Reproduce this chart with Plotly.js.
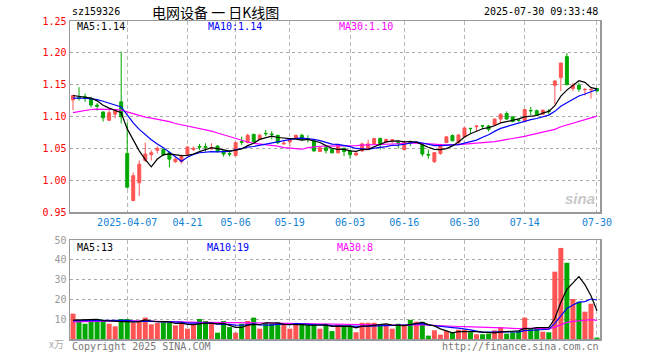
<!DOCTYPE html>
<html><head><meta charset="utf-8">
<script src="https://cdn.plot.ly/plotly-3.0.1.min.js"></script>
<style>html,body{margin:0;padding:0;background:#fff}#chart{width:660px;height:360px}</style>
</head><body><div id="chart"></div>
<script>
const dates = ["2025-03-24","2025-03-25","2025-03-26","2025-03-27","2025-03-28","2025-03-31","2025-04-01","2025-04-02","2025-04-03","2025-04-07","2025-04-08","2025-04-09","2025-04-10","2025-04-11","2025-04-14","2025-04-15","2025-04-16","2025-04-17","2025-04-18","2025-04-21","2025-04-22","2025-04-23","2025-04-24","2025-04-25","2025-04-28","2025-04-29","2025-04-30","2025-05-06","2025-05-07","2025-05-08","2025-05-09","2025-05-12","2025-05-13","2025-05-14","2025-05-15","2025-05-16","2025-05-19","2025-05-20","2025-05-21","2025-05-22","2025-05-23","2025-05-26","2025-05-27","2025-05-28","2025-05-29","2025-05-30","2025-06-03","2025-06-04","2025-06-05","2025-06-06","2025-06-09","2025-06-10","2025-06-11","2025-06-12","2025-06-13","2025-06-16","2025-06-17","2025-06-18","2025-06-19","2025-06-20","2025-06-23","2025-06-24","2025-06-25","2025-06-26","2025-06-27","2025-06-30","2025-07-01","2025-07-02","2025-07-03","2025-07-04","2025-07-07","2025-07-08","2025-07-09","2025-07-10","2025-07-11","2025-07-14","2025-07-15","2025-07-16","2025-07-17","2025-07-18","2025-07-21","2025-07-22","2025-07-23","2025-07-24","2025-07-25","2025-07-28","2025-07-29","2025-07-30"];

const open = [1.126,1.130,1.131,1.128,1.118,1.107,1.094,1.1036,1.123,1.042,0.968,0.996,1.031,1.040,1.047,1.048,1.043,1.029,1.029,1.040,1.048,1.053,1.053,1.049,1.0536,1.046,1.0415,1.0385,1.0605,1.059,1.072,1.064,1.0735,1.0725,1.0705,1.057,1.060,1.066,1.0705,1.0645,1.062,1.045,1.051,1.0485,1.043,1.050,1.046,1.0395,1.046,1.048,1.057,1.0655,1.060,1.0625,1.059,1.048,1.0595,1.0585,1.0555,1.0405,1.029,1.042,1.059,1.070,1.059,1.068,1.0815,1.084,1.0855,1.085,1.0865,1.096,1.1047,1.0995,1.0945,1.0927,1.1095,1.109,1.1036,1.1085,1.149,1.161,1.194,1.144,1.149,1.142,1.142,1.144];
const high = [1.134,1.146,1.136,1.131,1.121,1.108,1.110,1.112,1.202,1.090,1.012,1.031,1.059,1.047,1.053,1.050,1.045,1.036,1.040,1.054,1.053,1.057,1.058,1.058,1.055,1.047,1.047,1.059,1.0685,1.073,1.073,1.073,1.079,1.077,1.071,1.062,1.0635,1.071,1.073,1.0705,1.064,1.052,1.0525,1.050,1.057,1.051,1.047,1.044,1.059,1.0635,1.066,1.067,1.065,1.064,1.062,1.060,1.0625,1.061,1.058,1.048,1.0435,1.057,1.069,1.072,1.072,1.083,1.0815,1.0865,1.0865,1.0865,1.097,1.105,1.108,1.100,1.096,1.112,1.115,1.111,1.111,1.112,1.157,1.184,1.1995,1.153,1.153,1.145,1.144,1.145];
const low = [1.110,1.125,1.123,1.114,1.109,1.092,1.093,1.097,1.089,0.987,0.967,0.975,1.029,1.031,1.042,1.038,1.020,1.027,1.026,1.038,1.046,1.047,1.045,1.048,1.044,1.037,1.037,1.0385,1.055,1.058,1.059,1.063,1.069,1.064,1.057,1.0555,1.0525,1.065,1.062,1.059,1.0445,1.044,1.042,1.042,1.042,1.038,1.0335,1.038,1.044,1.047,1.056,1.048,1.059,1.058,1.050,1.047,1.0535,1.057,1.037,1.0335,1.027,1.040,1.058,1.061,1.057,1.067,1.074,1.077,1.080,1.0765,1.085,1.090,1.095,1.091,1.091,1.092,1.102,1.101,1.103,1.1035,1.119,1.140,1.149,1.140,1.139,1.133,1.128,1.139];
const close = [1.133,1.128,1.128,1.118,1.116,1.098,1.106,1.110,1.0995,0.989,1.007,1.025,1.041,1.043,1.050,1.040,1.033,1.033,1.037,1.052,1.050,1.052,1.051,1.050,1.0448,1.041,1.041,1.059,1.0595,1.0705,1.0605,1.0705,1.073,1.072,1.0588,1.058,1.063,1.0705,1.064,1.064,1.046,1.051,1.0465,1.043,1.056,1.045,1.040,1.0425,1.057,1.057,1.0655,1.057,1.064,1.0635,1.058,1.059,1.059,1.0595,1.041,1.0395,1.0433,1.056,1.068,1.062,1.071,1.082,1.081,1.085,1.085,1.080,1.096,1.1036,1.096,1.092,1.094,1.111,1.109,1.102,1.110,1.108,1.1557,1.184,1.150,1.149,1.143,1.1425,1.1425,1.140];

const ma5 = [1.133,1.132,1.131,1.129,1.1246,1.1176,1.1132,1.1096,1.1059,1.0805,1.0623,1.0461,1.0323,1.021,1.0332,1.0398,1.0414,1.0398,1.0386,1.039,1.041,1.0448,1.0484,1.051,1.0496,1.0478,1.0456,1.0472,1.0491,1.0542,1.0581,1.064,1.0668,1.0693,1.067,1.0665,1.065,1.0645,1.0629,1.0639,1.0615,1.0591,1.0543,1.0501,1.0485,1.0483,1.0461,1.0453,1.0481,1.0483,1.0524,1.0558,1.0601,1.0614,1.0616,1.0603,1.0607,1.0598,1.0553,1.0516,1.0485,1.0479,1.0496,1.0538,1.0601,1.0678,1.0728,1.0762,1.0808,1.0826,1.0854,1.0899,1.0921,1.0935,1.0963,1.0993,1.1004,1.1016,1.1052,1.108,1.1169,1.1319,1.1415,1.1493,1.1563,1.1537,1.1454,1.1434];
const ma10 = [1.129,1.129,1.1287,1.1276,1.1265,1.124,1.121,1.119,1.115,1.1026,1.09,1.0797,1.071,1.0635,1.0569,1.0511,1.0438,1.0361,1.0298,1.0361,1.0404,1.0431,1.0441,1.0448,1.0443,1.0444,1.0452,1.0478,1.05,1.0519,1.0529,1.0548,1.057,1.0592,1.0606,1.0623,1.0645,1.0656,1.0661,1.0654,1.064,1.062,1.0594,1.0565,1.0562,1.0549,1.0526,1.0498,1.0491,1.0484,1.0504,1.051,1.0527,1.0548,1.055,1.0564,1.0583,1.06,1.0584,1.0566,1.0544,1.0543,1.0547,1.0545,1.0558,1.0581,1.0603,1.0629,1.0673,1.0713,1.0766,1.0814,1.0842,1.0872,1.0895,1.0924,1.0952,1.0969,1.0994,1.1022,1.1081,1.1162,1.1216,1.1273,1.1322,1.1353,1.1387,1.1425];
const ma30 = [1.106,1.108,1.110,1.111,1.1115,1.1115,1.1115,1.111,1.110,1.107,1.104,1.101,1.099,1.0975,1.096,1.094,1.092,1.089,1.087,1.085,1.083,1.082,1.080,1.077,1.074,1.071,1.068,1.065,1.062,1.060,1.058,1.057,1.056,1.055,1.0535,1.051,1.050,1.049,1.0486,1.0511,1.0524,1.0533,1.0535,1.0535,1.0537,1.0539,1.0541,1.0544,1.0551,1.0552,1.0558,1.0559,1.0564,1.0568,1.0572,1.0578,1.0584,1.0585,1.0578,1.0568,1.0562,1.0558,1.0556,1.0553,1.0557,1.0565,1.0571,1.0575,1.0582,1.0588,1.0604,1.0622,1.0638,1.0655,1.0667,1.0689,1.0712,1.0732,1.075,1.0767,1.0797,1.0839,1.0868,1.0897,1.0925,1.0953,1.0981,1.1007];

const volume = [12.8,9.1,7.7,10.1,10.1,9.7,7.7,6.4,10.1,10.1,8.1,9.1,10.8,7.4,8.1,8.4,8.4,6.9,8.1,5.2,7.7,10.1,9.1,8.1,3.2,9.1,6.0,3.2,7.7,9.1,10.8,5.2,8.1,7.7,8.6,7.4,5.2,7.7,7.2,7.2,7.7,5.2,7.7,4.0,7.4,6.7,6.7,3.4,8.2,8.2,8.2,6.7,6.7,5.2,7.7,7.4,9.7,8.7,8.7,1.7,4.4,2.2,4.0,3.4,4.7,4.7,3.4,2.4,2.4,2.7,4.4,6.0,2.7,3.4,4.0,10.8,5.0,5.7,3.7,3.4,34,46,38.5,20.2,18.8,13.8,17.8,0.7];
const vma5 = [9.5,9.6,9.7,9.8,9.96,9.34,9.06,8.8,8.8,8.8,8.48,8.76,9.64,9.1,8.7,8.76,8.62,7.84,7.98,7.4,7.26,7.6,8.04,8.04,7.64,7.92,7.1,5.92,5.84,7.02,7.36,7.2,8.18,8.18,8.08,7.4,7.4,7.32,7.22,6.94,7.0,7.0,7.0,6.36,6.4,6.2,6.5,5.64,6.48,6.64,6.94,6.94,7.6,7.0,6.9,6.74,7.34,7.74,8.44,7.24,6.64,5.14,4.2,3.14,3.74,3.8,4.04,3.72,3.52,3.12,3.06,3.58,3.64,3.84,4.1,5.38,5.18,5.78,5.84,5.72,10.36,18.56,25.12,28.42,31.5,27.46,21.82,14.26];
const vma10 = [9.3,9.3,9.3,9.3,9.3,9.3,9.3,9.3,9.3,9.38,8.91,8.91,9.22,8.95,8.75,8.62,8.69,8.74,8.54,8.05,8.01,8.11,7.94,8.01,7.52,7.59,7.35,6.98,6.94,7.33,7.64,7.15,7.05,7.01,7.55,7.38,7.3,7.75,7.7,7.51,7.2,7.2,7.16,6.79,6.67,6.6,6.75,6.32,6.42,6.52,6.57,6.72,6.62,6.74,6.77,6.84,7.14,7.67,7.72,7.07,6.69,6.24,5.97,5.79,5.49,5.22,4.59,3.96,3.33,3.43,3.43,3.81,3.68,3.68,3.61,4.22,4.38,4.71,4.84,4.91,7.87,11.87,15.45,17.13,18.61,18.91,20.19,19.69];
const vma30 = [8.6,8.7,8.8,8.9,9.0,9.1,9.2,9.3,9.4,9.3,9.2,9.1,9.0,8.9,8.9,8.8,8.7,8.6,8.6,8.5,8.5,8.4,8.4,8.4,8.3,8.3,8.3,8.2,8.2,8.25,8.19,8.06,8.07,7.99,7.94,7.86,7.78,7.82,7.73,7.63,7.62,7.49,7.38,7.27,7.25,7.19,7.13,7.02,7.02,7.12,7.14,7.02,6.94,6.85,7.0,6.94,7.06,7.25,7.28,7.03,6.82,6.72,6.58,6.44,6.31,6.22,6.16,5.98,5.82,5.67,5.56,5.59,5.42,5.40,5.29,5.43,5.37,5.45,5.30,5.14,6.0,7.31,8.37,8.87,9.24,9.45,9.72,9.45];

const tickDates = ["2025-04-07","2025-04-21","2025-05-06","2025-05-19","2025-06-03","2025-06-16","2025-06-30","2025-07-14","2025-07-30"];
const tickLabels = ["2025-04-07","04-21","05-06","05-19","06-03","06-16","06-30","07-14","07-30"];
const priceTicks = [0.95,1.00,1.05,1.10,1.15,1.20,1.25];
const volTicks = [10,20,30,40,50];

const RED = "#ff5454", GREEN = "#00a800";
const MONO = "DejaVu Sans Mono";
const volColors = close.map((c,i)=> c >= open[i] ? RED : GREEN);

const traces = [
  {type:"candlestick", x:dates, open:open, high:high, low:low, close:close, xaxis:"x", yaxis:"y",
   increasing:{line:{color:RED,width:1}, fillcolor:RED},
   decreasing:{line:{color:GREEN,width:1}, fillcolor:GREEN},
   whiskerwidth:0, hoverinfo:"skip", showlegend:false},
  {type:"scatter", mode:"lines", x:dates, y:ma30, line:{color:"#ff00ff",width:1.2}, xaxis:"x", yaxis:"y", showlegend:false},
  {type:"scatter", mode:"lines", x:dates, y:ma10, line:{color:"#0000ff",width:1.2}, xaxis:"x", yaxis:"y", showlegend:false},
  {type:"scatter", mode:"lines", x:dates, y:ma5, line:{color:"#000000",width:1.2}, xaxis:"x", yaxis:"y", showlegend:false},
  {type:"bar", x:dates, y:volume, marker:{color:volColors, line:{width:0}}, xaxis:"x2", yaxis:"y2", showlegend:false},
  {type:"scatter", mode:"lines", x:dates, y:vma30, line:{color:"#ff00ff",width:1.2}, xaxis:"x2", yaxis:"y2", showlegend:false},
  {type:"scatter", mode:"lines", x:dates, y:vma10, line:{color:"#0000ff",width:1.2}, xaxis:"x2", yaxis:"y2", showlegend:false},
  {type:"scatter", mode:"lines", x:dates, y:vma5, line:{color:"#000000",width:1.2}, xaxis:"x2", yaxis:"y2", showlegend:false}
];

// pixel -> paper helpers (plot area x 70..600, y 21..339)
const PX = x => (x-70)/530, PY = y => (339-y)/318;
function ann(text, x, y, color, size, anchor, family, extra){
  return Object.assign({text:text, x:PX(x), y:PY(y), xref:"paper", yref:"paper", showarrow:false,
    xanchor:anchor||"left", yanchor:"middle", font:{family:family||MONO, size:size||10, color:color||"#000"}}, extra||{});
}

const gridX = {showgrid:true, gridcolor:"#b8b8b8", griddash:"4px,3px", gridwidth:1};
const layout = {
  width:660, height:360, margin:{l:70, r:60, t:21, b:21},
  paper_bgcolor:"#fff", plot_bgcolor:"#fff", showlegend:false, hovermode:false,
  bargap:0.17,
  xaxis:Object.assign({type:"category", range:[-0.5, dates.length-0.5], domain:[0,1], anchor:"y",
    tickvals:tickDates, ticktext:tickLabels, tickfont:{family:MONO,size:10,color:"#1482d2"},
    ticks:"", showline:true, mirror:true, linecolor:"#999", linewidth:1.5,
    rangeslider:{visible:false}, fixedrange:true}, gridX),
  yaxis:{domain:[(339-212)/318, 1], range:[0.95,1.25], anchor:"x", tickvals:priceTicks,
    ticktext:priceTicks.map(v=>v.toFixed(2)), tickfont:{family:MONO,size:10,color:"#ff0000"},
    ticks:"", showgrid:true, gridcolor:"#aaaaaa", griddash:"dot", gridwidth:1, zeroline:false,
    showline:true, mirror:true, linecolor:"#999", linewidth:1.5, fixedrange:true},
  xaxis2:Object.assign({type:"category", matches:"x", anchor:"y2", domain:[0,1], tickvals:tickDates,
    showticklabels:false, ticks:"", showline:true, mirror:true, linecolor:"#999", linewidth:1.5, fixedrange:true}, gridX),
  yaxis2:{domain:[0,(339-240)/318], range:[0,50], anchor:"x2", tickvals:volTicks, ticktext:volTicks.map(String),
    tickfont:{family:MONO,size:10,color:"#999"}, ticks:"", showgrid:true, gridcolor:"#aaaaaa", griddash:"dot",
    zeroline:false, showline:true, mirror:true, linecolor:"#999", linewidth:1.5, fixedrange:true},
  annotations:[
    ann("sz159326", 70, 12, "#000", 10),
    ann("电网设备 一 日K线图", 150, 12, "#000", 14, "left", "Noto Sans CJK SC"),
    ann("2025-07-30 09:33:48", 600, 12, "#000", 10, "right"),
    ann("MA5:1.14", 75, 26, "#000", 10),
    ann("MA10:1.14", 206, 26, "#0000ff", 10),
    ann("MA30:1.10", 337, 26, "#ff00ff", 10),
    ann("MA5:13", 75, 247, "#000", 10),
    ann("MA10:19", 205, 247, "#0000ff", 10),
    ann("MA30:8", 335, 247, "#ff00ff", 10),
    ann("Copyright 2025 SINA.COM", 70, 346, "#777", 10),
    ann("http://finance.sina.com.cn", 601, 346, "#777", 10, "right"),
    ann("x万", 66, 343, "#aaa", 10, "right", "Noto Sans CJK SC"),
    ann("<b><i>sina</i></b>", 597, 198, "#c8c8c8", 15, "right", "Liberation Sans")
  ]
};
Plotly.newPlot("chart", traces, layout, {staticPlot:true, displayModeBar:false});
</script></body></html>
